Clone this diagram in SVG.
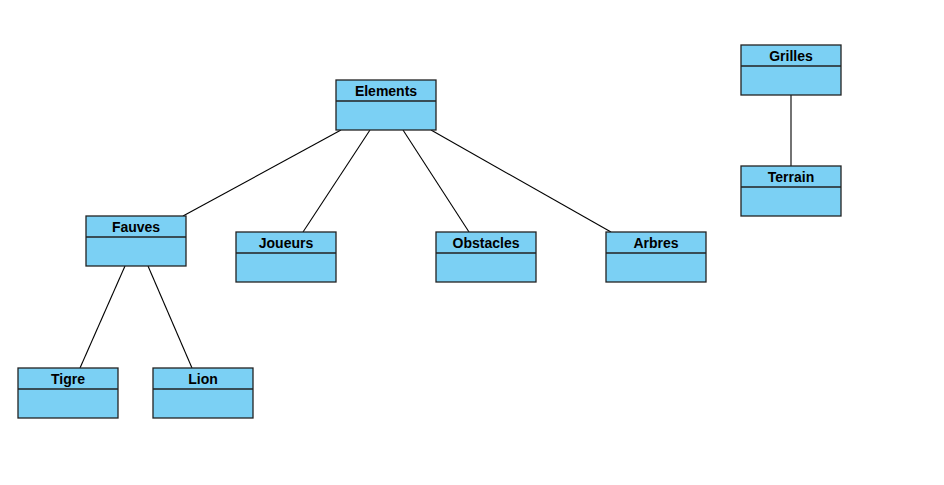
<svg xmlns="http://www.w3.org/2000/svg" width="944" height="485" viewBox="0 0 944 485">
<style>
.box{fill:#7bd0f4;stroke:#222;stroke-width:1.3}
.div{stroke:#222;stroke-width:1.3}
.t{font-family:"Liberation Sans",Arial,sans-serif;font-weight:bold;font-size:14px;fill:#000;text-anchor:middle}
.c{stroke:#000;stroke-width:1.1;fill:none}
</style>
<rect width="944" height="485" fill="#fff"/>
<g id="connectors">
<line class="c" x1="341" y1="130" x2="183" y2="216"/>
<line class="c" x1="370" y1="130" x2="303" y2="232"/>
<line class="c" x1="403" y1="130" x2="469" y2="232"/>
<line class="c" x1="431" y1="130" x2="611" y2="232"/>
<line class="c" x1="125" y1="266" x2="80" y2="368"/>
<line class="c" x1="148" y1="266" x2="192" y2="368"/>
<line class="c" x1="791" y1="95" x2="791" y2="166"/>
</g>
<g id="Elements"><rect class="box" x="336" y="80" width="100" height="50"/><line class="div" x1="336" y1="101" x2="436" y2="101"/><text class="t" x="386" y="96">Elements</text></g>
<g id="Fauves"><rect class="box" x="86" y="216" width="100" height="50"/><line class="div" x1="86" y1="237" x2="186" y2="237"/><text class="t" x="136" y="232">Fauves</text></g>
<g id="Joueurs"><rect class="box" x="236" y="232" width="100" height="50"/><line class="div" x1="236" y1="253" x2="336" y2="253"/><text class="t" x="286" y="248">Joueurs</text></g>
<g id="Obstacles"><rect class="box" x="436" y="232" width="100" height="50"/><line class="div" x1="436" y1="253" x2="536" y2="253"/><text class="t" x="486" y="248">Obstacles</text></g>
<g id="Arbres"><rect class="box" x="606" y="232" width="100" height="50"/><line class="div" x1="606" y1="253" x2="706" y2="253"/><text class="t" x="656" y="248">Arbres</text></g>
<g id="Grilles"><rect class="box" x="741" y="45" width="100" height="50"/><line class="div" x1="741" y1="66" x2="841" y2="66"/><text class="t" x="791" y="61">Grilles</text></g>
<g id="Terrain"><rect class="box" x="741" y="166" width="100" height="50"/><line class="div" x1="741" y1="187" x2="841" y2="187"/><text class="t" x="791" y="182">Terrain</text></g>
<g id="Tigre"><rect class="box" x="18" y="368" width="100" height="50"/><line class="div" x1="18" y1="389" x2="118" y2="389"/><text class="t" x="68" y="384">Tigre</text></g>
<g id="Lion"><rect class="box" x="153" y="368" width="100" height="50"/><line class="div" x1="153" y1="389" x2="253" y2="389"/><text class="t" x="203" y="384">Lion</text></g>
</svg>
